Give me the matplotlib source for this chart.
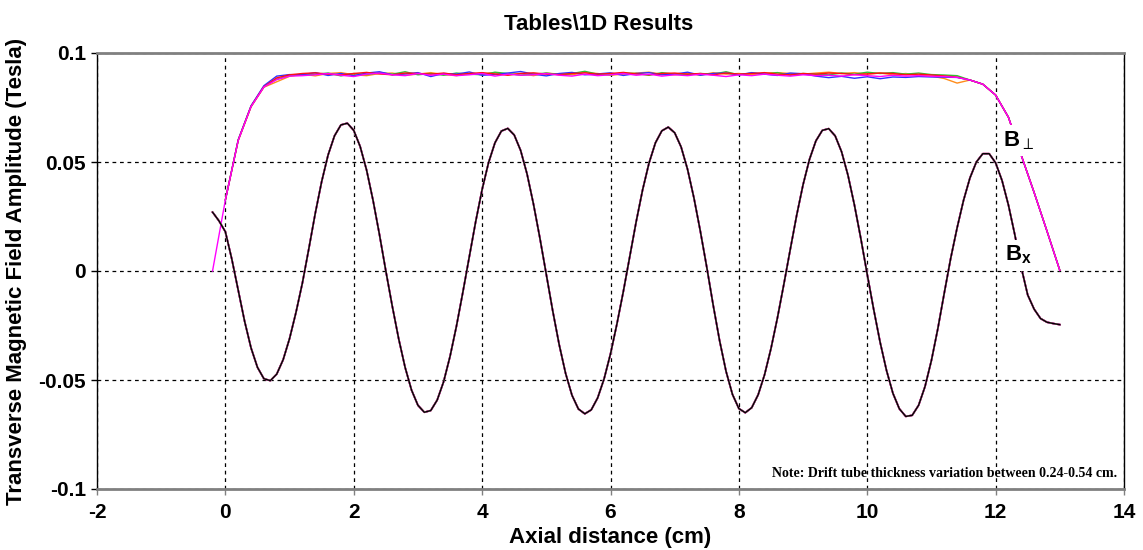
import numpy as np
import matplotlib
matplotlib.use("Agg")
import matplotlib.pyplot as plt

plt.rcParams['font.family'] = ['Liberation Sans', 'DejaVu Sans']
plt.rcParams['axes.unicode_minus'] = False
plt.rcParams['mathtext.fontset'] = 'custom'
plt.rcParams['mathtext.rm'] = 'Liberation Sans:bold'
plt.rcParams['mathtext.bf'] = 'Liberation Sans:bold'
plt.rcParams['mathtext.it'] = 'Liberation Sans:bold'
plt.rcParams['mathtext.fallback'] = 'stixsans'

# ---------------- data ----------------
# Bx (Tesla) on a 0.1 cm grid from -0.2 to 13.0 cm
bx_x = [round(-0.2 + 0.1 * i, 1) for i in range(133)]
bx_vals = [
    0.0270, 0.0230, 0.0180, 0.0055, -0.0089, -0.0231, -0.0353, -0.0442, -0.0494, -0.0503,
    -0.0473, -0.0407, -0.0310, -0.0190, -0.0055, 0.0102, 0.0264, 0.0410, 0.0532, 0.0620,
    0.0670, 0.0678, 0.0645, 0.0571, 0.0463, 0.0325, 0.0168, 0.0000, -0.0161, -0.0311,
    -0.0442, -0.0546, -0.0616, -0.0648, -0.0640, -0.0592, -0.0508, -0.0392, -0.0253, -0.0097,
    0.0066, 0.0227, 0.0374, 0.0497, 0.0588, 0.0642, 0.0654, 0.0624, 0.0553, 0.0445,
    0.0307, 0.0151, -0.0017, -0.0183, -0.0337, -0.0469, -0.0570, -0.0633, -0.0655, -0.0637,
    -0.0582, -0.0495, -0.0380, -0.0243, -0.0094, 0.0066, 0.0226, 0.0372, 0.0495, 0.0588,
    0.0643, 0.0660, 0.0634, 0.0569, 0.0467, 0.0335, 0.0182, 0.0017, -0.0157, -0.0320,
    -0.0460, -0.0566, -0.0631, -0.0650, -0.0627, -0.0568, -0.0476, -0.0356, -0.0216, -0.0062,
    0.0098, 0.0255, 0.0396, 0.0512, 0.0597, 0.0645, 0.0653, 0.0620, 0.0547, 0.0439,
    0.0303, 0.0149, -0.0016, -0.0176, -0.0326, -0.0456, -0.0561, -0.0632, -0.0667, -0.0662,
    -0.0616, -0.0530, -0.0410, -0.0264, -0.0101, 0.0058, 0.0198, 0.0324, 0.0427, 0.0500,
    0.0538, 0.0538, 0.0496, 0.0415, 0.0302, 0.0165, 0.0015, -0.0110, -0.0175, -0.0218,
    -0.0235, -0.0241, -0.0246,
]

# B-perp (mT) on a 0.2 cm grid from -0.2 to 13.0 cm
bp_x = [round(-0.2 + 0.2 * i, 1) for i in range(67)]

rise_red = [np.nan, 32.6, 60.0, 75.5, 84.5, 88.6, 90.0]
rise_blue = [np.nan, 32.4, 60.2, 75.8, 85.0, 89.4, 90.1]
rise_green = [np.nan, 32.8, 60.1, 75.6, 84.6, 88.0, 89.7]
rise_orange = [np.nan, 32.5, 59.8, 75.3, 84.3, 86.8, 89.3]
rise_magenta = [0.0, 32.6, 59.9, 75.4, 84.4, 87.8, 89.4]

flat_red = [
    90.6, 90.9, 90.3, 90.0, 90.6, 91.1, 90.4, 90.0, 90.8, 90.6,
    90.3, 90.8, 90.0, 90.6, 91.0, 90.4, 89.8, 90.6, 90.9, 90.3,
    90.1, 90.6, 90.9, 90.3, 90.6, 91.1, 90.4, 90.0, 90.6, 90.8,
    90.3, 90.6, 90.0, 90.8, 90.3, 90.6, 91.0, 90.3, 90.0, 90.6,
    90.3, 90.8, 90.6, 90.1, 90.4, 90.8, 90.6, 90.0, 90.3, 89.9,
    89.5, 88.9]
flat_blue = [
    90.0, 91.0, 89.7, 90.6, 89.6, 90.8, 91.4, 90.0, 90.4, 91.0,
    89.2, 90.6, 90.3, 91.3, 89.8, 90.1, 90.8, 91.5, 90.3, 89.5,
    90.6, 91.1, 90.0, 90.4, 90.9, 89.7, 90.6, 91.0, 90.0, 90.3,
    91.2, 89.8, 90.6, 90.8, 90.0, 91.0, 90.3, 89.7, 90.8, 90.5,
    89.4, 88.7, 89.3, 88.4, 89.1, 88.2, 89.0, 88.8, 89.2, 89.0,
    88.9, 88.8]
flat_green = [
    89.8, 90.3, 90.8, 89.5, 90.6, 90.1, 91.0, 90.3, 91.4, 90.0,
    90.6, 89.8, 90.8, 90.3, 90.0, 91.2, 90.6, 89.8, 90.3, 90.8,
    90.1, 90.6, 91.6, 90.3, 90.0, 90.8, 90.6, 89.8, 91.0, 90.3,
    90.0, 90.6, 90.3, 91.4, 90.0, 90.8, 90.3, 91.0, 89.8, 90.6,
    90.3, 90.0, 90.8, 90.3, 91.2, 90.6, 91.0, 90.3, 90.8, 90.1,
    89.9, 89.6]
flat_orange = [
    90.3, 89.5, 90.6, 91.0, 90.0, 89.6, 90.6, 90.8, 89.8, 90.3,
    91.0, 90.1, 89.6, 90.6, 90.3, 91.0, 90.0, 90.6, 89.6, 90.8,
    90.3, 90.0, 91.0, 90.6, 89.8, 90.3, 90.8, 91.2, 90.3, 90.0,
    90.6, 89.8, 91.0, 90.3, 90.6, 90.0, 90.8, 91.0, 90.6, 90.3,
    90.8, 91.2, 90.6, 91.0, 90.3, 90.8, 90.0, 90.6, 89.8, 89.4,
    88.3, 86.2]
flat_magenta = [
    89.6, 90.0, 90.6, 89.8, 89.2, 90.3, 90.8, 90.0, 89.6, 90.6,
    89.8, 90.3, 89.6, 90.0, 90.6, 89.4, 90.3, 89.8, 90.0, 90.6,
    89.8, 89.4, 90.3, 89.6, 90.0, 90.6, 89.8, 90.3, 89.4, 90.0,
    89.6, 90.3, 89.8, 89.2, 90.0, 89.6, 90.3, 89.8, 89.4, 90.0,
    89.6, 89.8, 89.4, 90.0, 89.6, 89.2, 89.8, 89.4, 89.6, 89.3,
    89.2, 88.8]

fall = [87.6, 85.7, 80.7, 70.5, 53.0, 36.0, 18.3, 0.3]

bp_series = {
    '#ff8c1a': rise_orange + flat_orange + fall,
    '#33bb33': rise_green + flat_green + fall,
    '#3030ff': rise_blue + flat_blue + fall,
    '#ff1010': rise_red + flat_red + fall,
    '#ff00ff': rise_magenta + flat_magenta + fall,
}

bx_colors = ['#ff8c1a', '#ff1010', '#3030ff', '#ff00ff', '#c8a888']

x_ticks = [-2, 0, 2, 4, 6, 8, 10, 12, 14]
y_ticks = [-0.1, -0.05, 0, 0.05, 0.1]
y_tick_labels = ['-0.1', '-0.05', '0', '0.05', '0.1']

# ---------------- figure ----------------
fig = plt.figure(figsize=(11.43, 5.5), dpi=100)
ax = fig.add_axes([97 / 1143, 61 / 550, 1027 / 1143, 436 / 550])

for col, vals in bp_series.items():
    ax.plot(bp_x, np.array(vals) / 1000.0, color=col, lw=1.0, zorder=3)

for col in bx_colors:
    ax.plot(bx_x, bx_vals, color=col, lw=1.2, zorder=3)
ax.plot(bx_x, bx_vals, color='black', lw=1.0, zorder=4)

ax.set_xlim(-2, 14)
ax.set_ylim(-0.1, 0.1)
ax.set_xticks(x_ticks)
ax.set_xticklabels([str(t) for t in x_ticks])
ax.set_yticks(y_ticks)
ax.set_yticklabels(y_tick_labels)

ax.grid(True, color='black', linestyle=(0, (3, 3)), linewidth=0.9, zorder=1)
ax.set_axisbelow(True)

for s in ['top', 'bottom']:
    ax.spines[s].set_color('#808080')
    ax.spines[s].set_linewidth(2.0)
for s in ['left', 'right']:
    ax.spines[s].set_color('black')
    ax.spines[s].set_linewidth(1.0)

ax.tick_params(axis='both', direction='out', length=4, width=1, pad=4,
               labelsize=15)
ax.tick_params(axis='x', colors='#808080', labelcolor='black', pad=6)
for lab in ax.get_xticklabels() + ax.get_yticklabels():
    lab.set_fontweight('bold')

ax.set_xlabel('Axial distance (cm)', fontsize=16, fontweight='bold', labelpad=4)
ax.set_ylabel('Transverse Magnetic Field Amplitude (Tesla)', fontsize=16,
              fontweight='bold', labelpad=8)
fig.text(599 / 1143, 1 - 24 / 550, 'Tables\\1D Results', fontsize=16,
         fontweight='bold', ha='center', va='center')

# curve labels
wb = dict(facecolor='white', edgecolor='none', pad=3)
ax.text(12.36, 0.0600, r'B$_{\perp}$', fontsize=16, fontweight='bold',
        ha='center', va='center', bbox=wb, zorder=6)
ax.text(12.36, 0.0073, r'B$_{\mathrm{x}}$', fontsize=16, fontweight='bold',
        ha='center', va='center', bbox=wb, zorder=6)

ax.text(13.90, -0.0927, 'Note: Drift tube thickness variation between 0.24-0.54 cm.',
        fontsize=10, fontweight='bold', family=['Liberation Serif'],
        ha='right', va='center', zorder=6)

fig.savefig('out.png', dpi=100)
